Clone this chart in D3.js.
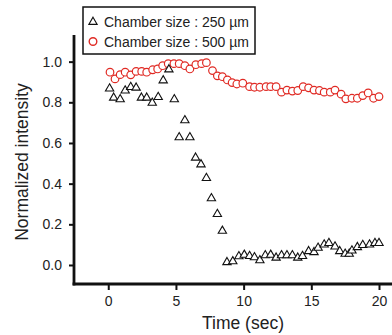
<!DOCTYPE html>
<html>
<head>
<meta charset="utf-8">
<script src="https://cdn.jsdelivr.net/npm/d3@7"></script>
<style>
  body { margin: 0; background: #fff; }
  text { font-family: "Liberation Sans", Arial, sans-serif; fill: #222; }
</style>
</head>
<body>
<svg id="chart" width="392" height="335"></svg>
<script>
// chamber 250 um (triangles)
const timeA = [0.1, 0.4, 0.88, 1.25, 1.66, 2.06, 2.45, 2.84, 3.25, 3.69, 4.06, 4.48, 4.88,
  5.24, 5.66, 6.03, 6.45, 6.85, 7.25, 7.62, 8.06, 8.43, 8.77, 9.2, 9.65, 10.05, 10.44, 10.8,
  11.2, 11.6, 12.0, 12.4, 12.8, 13.2, 13.6, 14.0, 14.35, 14.8, 15.2, 15.5, 15.95, 16.3, 16.75,
  17.1, 17.5, 17.8, 18.0, 18.4, 18.8, 19.3, 19.7, 20.0];
const valueA = [0.87, 0.825, 0.817, 0.86, 0.877, 0.874, 0.825, 0.825, 0.80, 0.828, 0.91, 0.964, 0.817,
  0.63, 0.714, 0.63, 0.53, 0.497, 0.43, 0.33, 0.253, 0.17, 0.016, 0.02, 0.045, 0.052, 0.046, 0.04,
  0.025, 0.05, 0.052, 0.038, 0.05, 0.05, 0.05, 0.038, 0.046, 0.07, 0.065, 0.087, 0.103, 0.11, 0.093,
  0.07, 0.057, 0.057, 0.073, 0.09, 0.1, 0.103, 0.11, 0.11];

// chamber 500 um (circles)
const timeB = [0.13, 0.5, 0.88, 1.25, 1.66, 2.06, 2.47, 2.84, 3.28, 3.65, 4.02, 4.43, 4.85, 5.24,
  5.66, 6.03, 6.47, 6.9, 7.25, 7.7, 8.06, 8.43, 8.8, 9.15, 9.5, 9.94, 10.44, 10.8, 11.2, 11.66,
  12.0, 12.4, 12.8, 13.2, 13.6, 14.0, 14.4, 14.8, 15.2, 15.6, 15.95, 16.4, 16.75, 17.2, 17.55,
  18.0, 18.4, 18.8, 19.2, 19.6, 20.0];
const valueB = [0.948, 0.915, 0.936, 0.948, 0.935, 0.952, 0.952, 0.948, 0.96, 0.964, 0.98, 0.99, 0.99, 0.99,
  0.98, 0.964, 0.985, 0.99, 0.995, 0.956, 0.93, 0.926, 0.91, 0.897, 0.89, 0.894, 0.877, 0.874, 0.874, 0.877,
  0.877, 0.877, 0.85, 0.86, 0.855, 0.858, 0.877, 0.871, 0.86, 0.858, 0.85, 0.85, 0.86, 0.84, 0.817,
  0.82, 0.82, 0.833, 0.846, 0.82, 0.828];

const xTicks = [0, 5, 10, 15, 20];
const yTicks = [0.0, 0.2, 0.4, 0.6, 0.8, 1.0];
const legendLabels = ["Chamber size : 250 \u00b5m", "Chamber size : 500 \u00b5m"];

const svg = d3.select("#chart");
const red = "#e02a24";

let x = d3.scaleLinear().domain([-2.53, 20.96]).range([74, 392]),
    y = d3.scaleLinear().domain([-0.0935, 1.131]).range([284, 35]);

const triangle = d3.symbol().type(d3.symbolTriangle).size(30);

// Axes
let xAxis = svg.append("g")
    .attr("transform", "translate(0,284)")
    .call(d3.axisBottom(x).tickValues(xTicks).tickFormat(d3.format("d")).tickSize(6).tickPadding(6));
let yAxis = svg.append("g")
    .attr("transform", "translate(74,0)")
    .call(d3.axisLeft(y).tickValues(yTicks).tickFormat(d3.format(".1f")).tickSize(5).tickPadding(7));

[xAxis, yAxis].forEach(g => {
  g.select(".domain").remove();
  g.selectAll(".tick line").attr("stroke", "#111").attr("stroke-width", 2);
  g.selectAll(".tick text").style("font-size", "14px").attr("fill", "#222");
});

svg.append("line").attr("x1", 74).attr("x2", 74).attr("y1", 35).attr("y2", 285.4)
  .attr("stroke", "#111").attr("stroke-width", 2.8);
svg.append("line").attr("x1", 72.6).attr("x2", 392).attr("y1", 284).attr("y2", 284)
  .attr("stroke", "#111").attr("stroke-width", 2.8);

// Axis titles
svg.append("text")
    .attr("x", 243).attr("y", 329)
    .attr("text-anchor", "middle")
    .style("font-size", "17.5px")
    .text("Time (sec)");
svg.append("text")
    .attr("transform", "translate(28,162) rotate(-90)")
    .attr("text-anchor", "middle")
    .style("font-size", "17.5px")
    .text("Normalized intensity");

// Data points
svg.append("g").selectAll("circle")
  .data(timeB.map((t, i) => [t, valueB[i]]))
  .join("circle")
    .attr("cx", d => x(d[0]))
    .attr("cy", d => y(d[1]))
    .attr("r", 3.8)
    .attr("fill", "#fff")
    .attr("stroke", red)
    .attr("stroke-width", 1.2);

svg.append("g").selectAll("path")
  .data(timeA.map((t, i) => [t, valueA[i]]))
  .join("path")
    .attr("d", triangle)
    .attr("transform", d => `translate(${x(d[0])},${y(d[1]) + 0.5})`)
    .attr("fill", "#fff")
    .attr("stroke", "#111")
    .attr("stroke-width", 1.1);

// Legend
let legend = svg.append("g");
legend.append("rect")
    .attr("x", 83).attr("y", 7).attr("width", 172).attr("height", 47)
    .attr("fill", "#fff").attr("stroke", "#111").attr("stroke-width", 1.5);
legend.append("path")
    .attr("d", triangle)
    .attr("transform", "translate(93,22)")
    .attr("fill", "#fff").attr("stroke", "#111").attr("stroke-width", 1.1);
legend.append("circle")
    .attr("cx", 93).attr("cy", 41.5).attr("r", 3.8)
    .attr("fill", "#fff").attr("stroke", red).attr("stroke-width", 1.4);
legend.selectAll("text.lab")
  .data(legendLabels)
  .join("text")
    .attr("class", "lab")
    .attr("x", 104)
    .attr("y", (d, i) => 27 + i * 20)
    .style("font-size", "14px")
    .text(d => d);
</script>
</body>
</html>
